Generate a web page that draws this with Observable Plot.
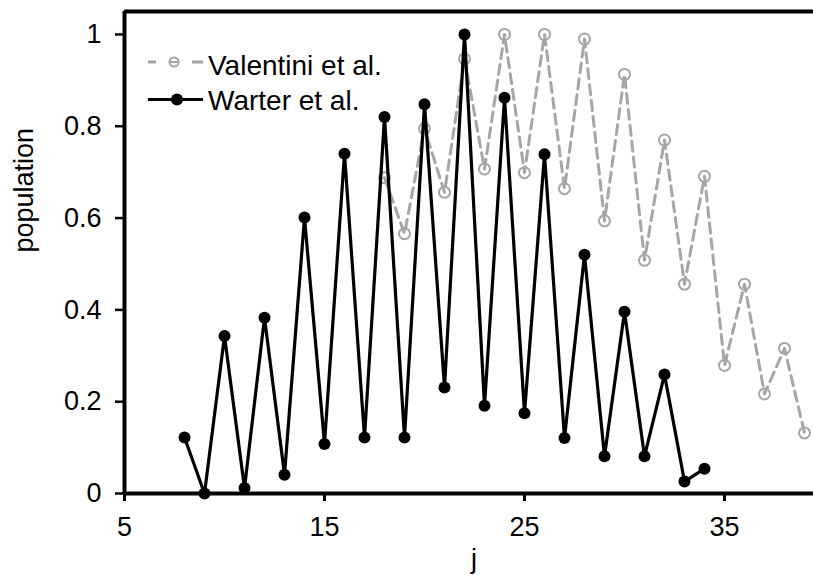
<!DOCTYPE html>
<html><head><meta charset="utf-8">
<script src="https://cdn.jsdelivr.net/npm/d3@7"></script>
<script src="https://cdn.jsdelivr.net/npm/@observablehq/plot@0.6"></script>
<style>
html,body{margin:0;padding:0;background:#fff;overflow:hidden;}
#wrap{position:relative;width:813px;height:579px;overflow:hidden;font-family:"Liberation Sans",Arial,sans-serif;}
#legend{position:absolute;left:0;top:0;pointer-events:none;}
</style></head><body><div id="wrap"></div>
<script>
// ---- data ----
const seriesNames = ["Valentini et al.", "Warter et al."];
const valentiniJ   = [18, 19, 20, 21, 22, 23, 24, 25, 26, 27, 28, 29, 30, 31, 32, 33, 34, 35, 36, 37, 38, 39];
const valentiniPop = [0.688, 0.566, 0.795, 0.656, 0.947, 0.707, 1.0, 0.699, 1.0, 0.664, 0.99, 0.594, 0.913, 0.508, 0.770, 0.456, 0.691, 0.279, 0.456, 0.217, 0.316, 0.132];
const warterJ   = [8, 9, 10, 11, 12, 13, 14, 15, 16, 17, 18, 19, 20, 21, 22, 23, 24, 25, 26, 27, 28, 29, 30, 31, 32, 33, 34];
const warterPop = [0.122, 0.0, 0.343, 0.012, 0.383, 0.041, 0.601, 0.108, 0.740, 0.122, 0.820, 0.122, 0.848, 0.231, 1.0, 0.191, 0.862, 0.175, 0.739, 0.121, 0.520, 0.081, 0.396, 0.081, 0.259, 0.026, 0.054];
const xTicks = [5, 15, 25, 35];
const yTicks = [0, 0.2, 0.4, 0.6, 0.8, 1];
const yTickLabels = ["0", "0.2", "0.4", "0.6", "0.8", "1"];
const xLabel = "j";
const yLabel = "population";

const gray = "#a6a6a6";
const font = '"Liberation Sans", Arial, sans-serif';

const chart = Plot.plot({
  width: 813, height: 579,
  marginLeft: 124, marginRight: 0, marginTop: 11, marginBottom: 86,
  style: {fontFamily: font, fontSize: "27px", color: "#000", background: "#fff"},
  x: {domain: [5, 39.45]},
  y: {domain: [0, 1.05]},
  marks: [
    Plot.axisX({ticks: xTicks, tickSize: 8, tickPadding: 15, strokeWidth: 3, label: null, tickFormat: d => String(d)}),
    Plot.axisY({ticks: yTicks, tickSize: 9, tickPadding: 14, strokeWidth: 2.5, label: null,
                tickFormat: d => yTickLabels[yTicks.indexOf(d)]}),
    Plot.ruleY([0], {stroke: "#000", strokeWidth: 4}),
    Plot.ruleY([1.05], {stroke: "#000", strokeWidth: 4}),
    Plot.ruleX([5], {stroke: "#000", strokeWidth: 4}),
    Plot.text([xLabel], {frameAnchor: "bottom", text: d => d, dy: 74, dx: 5, fontSize: 27}),
    Plot.text([yLabel], {frameAnchor: "left", text: d => d, rotate: -90, dx: -100, fontSize: 27}),
    Plot.line(valentiniPop, {x: valentiniJ, y: valentiniPop, stroke: gray, strokeWidth: 3, strokeDasharray: "10,6"}),
    Plot.dot(valentiniPop, {x: valentiniJ, y: valentiniPop, r: 5.5, stroke: gray, strokeWidth: 2, fill: "none"}),
    Plot.line(warterPop, {x: warterJ, y: warterPop, stroke: "#000", strokeWidth: 3.2}),
    Plot.dot(warterPop, {x: warterJ, y: warterPop, r: 6, fill: "#000", stroke: "none"})
  ]
});
const wrap = document.getElementById("wrap");
wrap.appendChild(chart);

// ---- legend overlay ----
const ns = "http://www.w3.org/2000/svg";
const lg = document.createElementNS(ns, "svg");
lg.setAttribute("id", "legend");
lg.setAttribute("width", 813); lg.setAttribute("height", 579);
lg.innerHTML =
  `<path d="M148,62H203" stroke="${gray}" stroke-width="3" stroke-dasharray="8,36,11" fill="none"/>
   <circle cx="174" cy="62" r="4.5" stroke="${gray}" stroke-width="2" fill="none"/>
   <path d="M170,62H178" stroke="${gray}" stroke-width="2"/>
   <text x="208" y="75" font-family='${font}' font-size="28" fill="#000">${seriesNames[0]}</text>
   <path d="M148,99.5H203" stroke="#000" stroke-width="3" fill="none"/>
   <circle cx="177" cy="99.5" r="6" fill="#000"/>
   <text x="208" y="110" font-family='${font}' font-size="28" fill="#000">${seriesNames[1]}</text>`;
wrap.appendChild(lg);
</script>
</body></html>
